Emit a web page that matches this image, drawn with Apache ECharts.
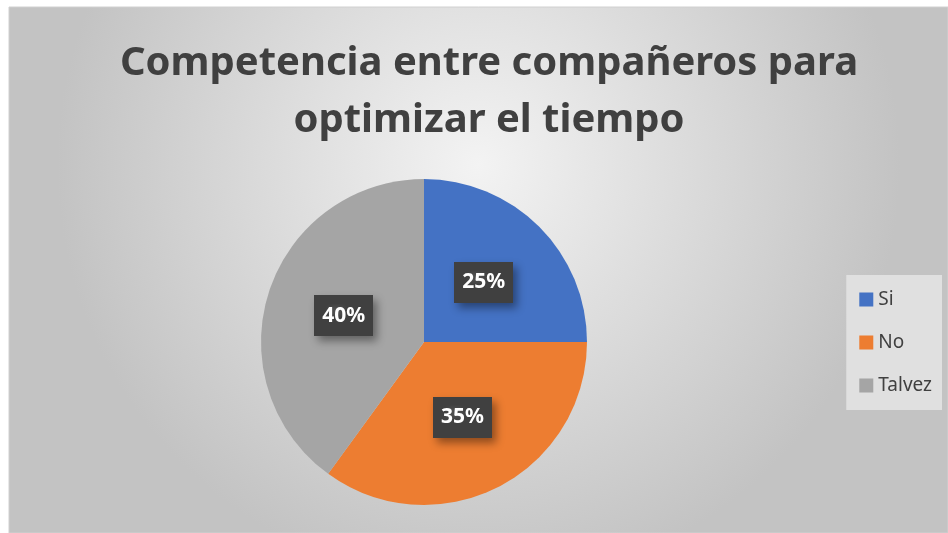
<!DOCTYPE html>
<html>
<head>
<meta charset="utf-8">
<script src="https://cdn.jsdelivr.net/npm/echarts@6/dist/echarts.min.js"></script>
<style>
  html, body { margin: 0; padding: 0; background: #fff; }
  #main { width: 948px; height: 533px; }
</style>
</head>
<body>
<div id="main"></div>
<script>
// datos del gráfico
var categories = ['Si', 'No', 'Talvez']
var values = [25, 35, 40]
var colors = ['#4472c4', '#ed7d31', '#a5a5a5']
var titleText = 'Competencia entre compañeros para\noptimizar el tiempo'

// fondo punteado para las etiquetas
function dotPattern() {
  var c = document.createElement('canvas')
  c.width = 8
  c.height = 8
  var ctx = c.getContext('2d')
  ctx.fillStyle = '#404040'
  ctx.fillRect(0, 0, 8, 8)
  ctx.fillStyle = '#4e4e4e'
  ctx.fillRect(2, 2, 2, 2)
  return c
}

var myChart = echarts.init(document.getElementById('main'))
var option = {
  backgroundColor: '#ffffff',
  animation: false,
  graphic: [
    {
      type: 'rect',
      z: -10,
      shape: { x: 9, y: 7, width: 939, height: 526 },
      style: {
        fill: {
          type: 'radial', x: 0.5, y: 0.3, r: 0.8,
          colorStops: [
            { offset: 0, color: '#f3f3f3' },
            { offset: 1, color: '#c3c3c3' }
          ]
        },
        stroke: '#d0d0d0',
        lineWidth: 1
      }
    }
  ],
  title: {
    text: titleText,
    left: 484,
    textAlign: 'center',
    top: 30,
    textStyle: {
      fontFamily: 'Noto Sans',
      fontWeight: 'bold',
      fontSize: 40,
      lineHeight: 57,
      color: '#404040'
    }
  },
  legend: {
    orient: 'vertical',
    right: 6,
    top: 275,
    itemWidth: 14,
    itemHeight: 14,
    itemGap: 24,
    padding: [15, 10, 15, 13],
    backgroundColor: '#e0e0e0',
    icon: 'rect',
    textStyle: { fontFamily: 'Noto Sans', fontSize: 19, color: '#404040' },
    data: categories
  },
  series: [
    {
      type: 'pie',
      center: [424, 342],
      radius: 163,
      startAngle: 90,
      clockwise: true,
      color: colors,
      label: {
        show: true,
        position: 'inside',
        formatter: '{d}%',
        fontFamily: 'Noto Sans',
        fontWeight: 'bold',
        fontSize: 21,
        color: '#ffffff',
        backgroundColor: { image: dotPattern(), repeat: 'repeat' },
        padding: [10, 8, 10, 8],
        shadowColor: 'rgba(0,0,0,0.4)',
        shadowBlur: 8,
        shadowOffsetX: 4,
        shadowOffsetY: 5
      },
      labelLine: { show: false },
      emphasis: { disabled: true },
      data: categories.map(function (name, i) {
        return { name: name, value: values[i] }
      })
    }
  ]
}
myChart.setOption(option)
</script>
</body>
</html>
